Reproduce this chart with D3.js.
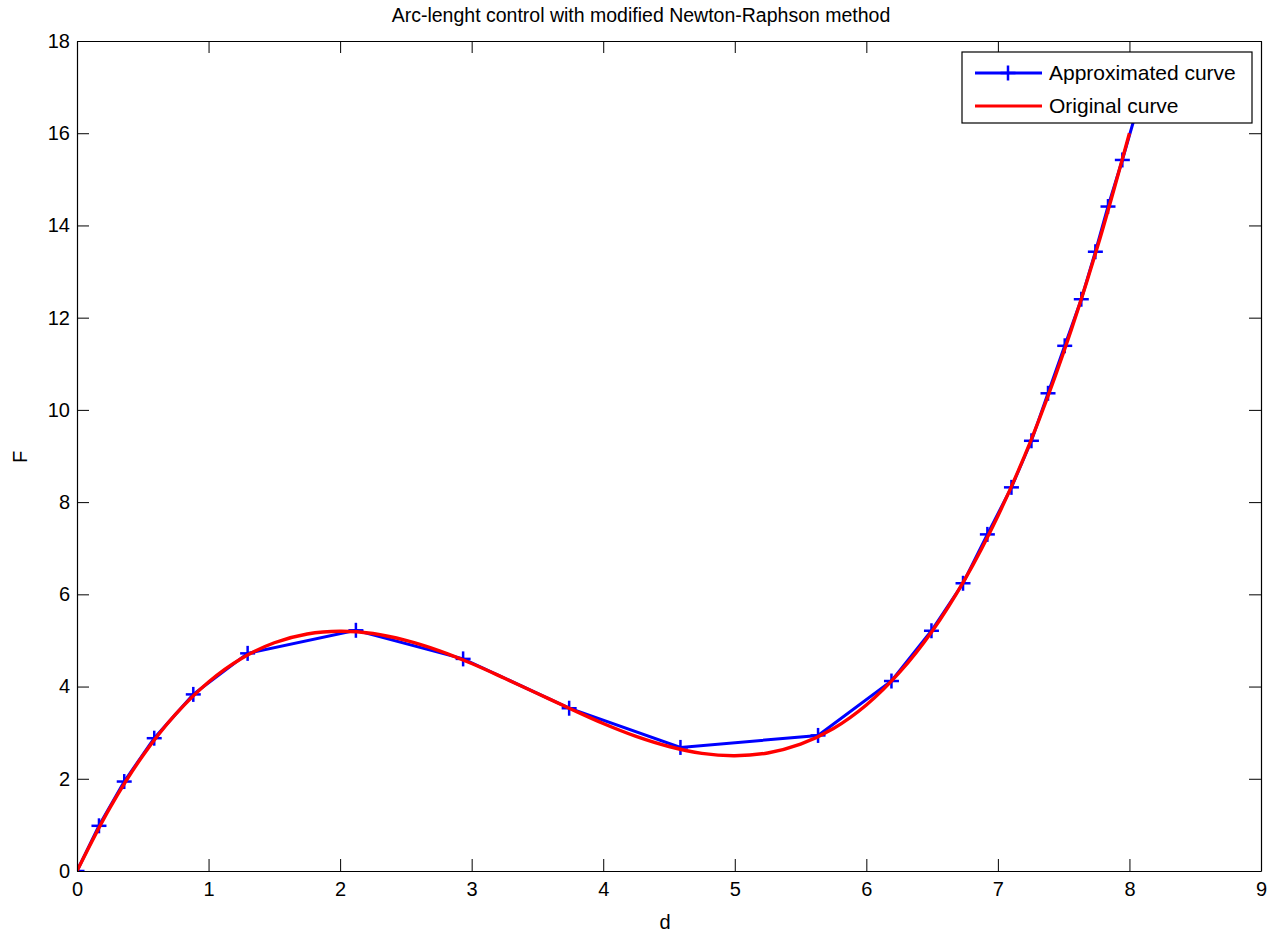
<!DOCTYPE html>
<html>
<head>
<meta charset="utf-8">
<script src="https://cdn.jsdelivr.net/npm/d3@7"></script>
<style>
  html, body { margin: 0; padding: 0; background: #fff; }
  text { font-family: "Liberation Sans", Arial, sans-serif; fill: #000; }
</style>
</head>
<body>
<div id="chart"></div>
<script>
// values
const approxD = [0, 0.167, 0.359, 0.587, 0.884, 1.297, 2.120, 2.935, 3.741, 4.587, 5.633,
  6.191, 6.495, 6.735, 6.920, 7.103, 7.255, 7.381, 7.508, 7.634, 7.741, 7.837, 7.946, 8.05]
const approxF = [0, 0.98, 1.94, 2.88, 3.83, 4.72, 5.22, 4.60, 3.53, 2.68, 2.94,
  4.12, 5.21, 6.24, 7.30, 8.32, 9.33, 10.36, 11.39, 12.40, 13.43, 14.41, 15.42, 16.45]

const origD = [0, 0.25, 0.5, 0.75, 1, 1.25, 1.5, 1.75, 2, 2.25, 2.5, 2.75, 3, 3.25, 3.5, 3.75,
  4, 4.25, 4.5, 4.75, 5, 5.25, 5.5, 5.75, 6, 6.25, 6.5, 6.75, 7, 7.25, 7.5, 7.75, 8]
const origF = [0, 1.37, 2.5, 3.40, 4.1, 4.61, 4.95, 5.14, 5.2, 5.15, 5.0, 4.78, 4.5, 4.18, 3.85, 3.52,
  3.2, 2.92, 2.7, 2.55, 2.5, 2.56, 2.75, 3.09, 3.6, 4.30, 5.2, 6.33, 7.7, 9.33, 11.25, 13.47, 16.0]

const xTicks = [0, 1, 2, 3, 4, 5, 6, 7, 8, 9]
const yTicks = [0, 2, 4, 6, 8, 10, 12, 14, 16, 18]
const seriesNames = ["Approximated curve", "Original curve"]
const seriesColors = ["#0000ff", "#ff0000"]

const width = 1282, height = 933
const margin = {top: 41, right: 21, bottom: 62, left: 77}

const svg = d3.select("#chart").append("svg")
  .attr("width", width).attr("height", height)

const x = d3.scaleLinear().domain([0, 9]).range([margin.left, width - margin.right])
const y = d3.scaleLinear().domain([0, 18]).range([height - margin.bottom, margin.top])

const approx = approxD.map((d, i) => ({d: d, f: approxF[i]}))
const orig = origD.map((d, i) => ({d: d, f: origF[i]}))

// clip to axes box
svg.append("clipPath").attr("id", "clip")
  .append("rect")
  .attr("x", margin.left).attr("y", margin.top)
  .attr("width", x(9) - x(0)).attr("height", y(0) - y(18))

const plot = svg.append("g").attr("clip-path", "url(#clip)")

// approximated curve
plot.append("path")
  .datum(approx)
  .attr("fill", "none")
  .attr("stroke", seriesColors[0])
  .attr("stroke-width", 3)
  .attr("d", d3.line().x(p => x(p.d)).y(p => y(p.f)))

const plus = (g, s) => {
  g.append("line").attr("x1", -s).attr("x2", s).attr("y1", 0).attr("y2", 0)
  g.append("line").attr("x1", 0).attr("x2", 0).attr("y1", -s).attr("y2", s)
}

plot.append("g")
  .selectAll("g")
  .data(approx)
  .join("g")
    .attr("transform", p => `translate(${x(p.d)},${y(p.f)})`)
    .attr("stroke", seriesColors[0])
    .attr("stroke-width", 2.5)
    .each(function(){ plus(d3.select(this), 7.5) })

// original curve
plot.append("path")
  .datum(orig)
  .attr("fill", "none")
  .attr("stroke", seriesColors[1])
  .attr("stroke-width", 3.4)
  .attr("d", d3.line().curve(d3.curveCatmullRom).x(p => x(p.d)).y(p => y(p.f)))

// axes box with inward ticks on all four sides
const tickLen = 12
svg.append("g")
  .attr("transform", `translate(0,${y(0)})`)
  .call(d3.axisBottom(x).tickValues(xTicks).tickSizeInner(-tickLen).tickSizeOuter(0).tickPadding(11))
  .call(g => g.selectAll("text").attr("font-size", 20).attr("fill", "#000"))
svg.append("g")
  .attr("transform", `translate(0,${y(18)})`)
  .call(d3.axisTop(x).tickValues(xTicks).tickSizeInner(-tickLen).tickSizeOuter(0).tickFormat(""))
svg.append("g")
  .attr("transform", `translate(${x(0)},0)`)
  .call(d3.axisLeft(y).tickValues(yTicks).tickSizeInner(-tickLen).tickSizeOuter(0).tickPadding(7))
  .call(g => g.selectAll("text").attr("font-size", 20).attr("fill", "#000"))
svg.append("g")
  .attr("transform", `translate(${x(9)},0)`)
  .call(d3.axisRight(y).tickValues(yTicks).tickSizeInner(-tickLen).tickSizeOuter(0).tickFormat(""))

svg.selectAll(".domain").attr("stroke", "#000").attr("stroke-width", 1.2)
svg.selectAll(".tick line").attr("stroke", "#000").attr("stroke-width", 1)
svg.selectAll(".tick text").attr("font-family", "Liberation Sans, Arial, sans-serif")

// title and axis labels
svg.append("text")
  .attr("x", 641).attr("y", 22)
  .attr("text-anchor", "middle").attr("font-size", 19.5)
  .text("Arc-lenght control with modified Newton-Raphson method")
svg.append("text")
  .attr("x", 665).attr("y", 929)
  .attr("text-anchor", "middle").attr("font-size", 20)
  .text("d")
svg.append("text")
  .attr("transform", `translate(27,457) rotate(-90)`)
  .attr("text-anchor", "middle").attr("font-size", 20)
  .text("F")

// legend
const legend = svg.append("g").attr("transform", "translate(962,52)")
legend.append("rect")
  .attr("width", 290).attr("height", 71)
  .attr("fill", "#fff").attr("stroke", "#000").attr("stroke-width", 1.2)

seriesNames.forEach((name, i) => {
  const row = legend.append("g").attr("transform", `translate(0,${21 + i * 33})`)
  row.append("line")
    .attr("x1", 13).attr("x2", 80).attr("y1", 0).attr("y2", 0)
    .attr("stroke", seriesColors[i]).attr("stroke-width", 3)
  if (i === 0) {
    const m = row.append("g").attr("transform", "translate(46,0)")
      .attr("stroke", seriesColors[0]).attr("stroke-width", 2.5)
    plus(m, 7.5)
  }
  row.append("text")
    .attr("x", 87).attr("y", 7)
    .attr("font-size", 21)
    .text(name)
})
</script>
</body>
</html>
